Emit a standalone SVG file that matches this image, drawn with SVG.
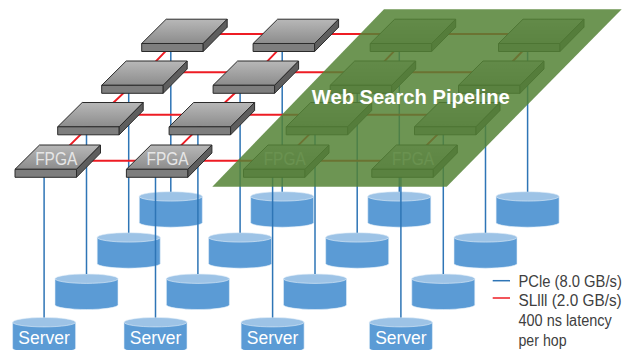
<svg xmlns="http://www.w3.org/2000/svg" xmlns:xlink="http://www.w3.org/1999/xlink" width="633" height="350" viewBox="0 0 633 350">
<style>
.ft{fill:url(#gTop);stroke:#2b2b2b;stroke-width:1;stroke-linejoin:round}
.ff{fill:#7e7e7e;stroke:#2b2b2b;stroke-width:1;stroke-linejoin:round}
.fs{fill:#5e5e5e;stroke:#2b2b2b;stroke-width:1;stroke-linejoin:round}
.cb{fill:#5b9bd5;stroke:#e3eef9;stroke-width:0.6}
.ct{fill:#9dc3e6;stroke:#e3eef9;stroke-width:0.6}
.pc{stroke:#2e75b6;stroke-width:1.5;fill:none}
.sl{stroke:#ee1c24;stroke-width:2;fill:none}
.lbl{font-family:"Liberation Sans",Arial,sans-serif;font-size:18px;text-anchor:middle}
.fl{fill:#e6e6e6}
.sv{fill:#ffffff}
.lg{font-family:"Liberation Sans",Arial,sans-serif;font-size:16px;fill:#404040}
.ttl{font-family:"Liberation Sans",Arial,sans-serif;font-size:21px;font-weight:bold;fill:#ffffff;text-anchor:middle}
</style>
<defs>
<linearGradient id="gTop" x1="0" y1="0" x2="0" y2="1">
<stop offset="0" stop-color="#b8b8b8"/>
<stop offset="1" stop-color="#8c8c8c"/>
</linearGradient>
<g id="box">
<path class="ft" d="M0,0 L24.5,-24.3 L85.5,-24.3 L61.5,0 Z"/>
<path class="ff" d="M0,0 H61.5 V8 H0 Z"/>
<path class="fs" d="M61.5,0 L85.5,-24.3 V-16.3 L61.5,8 Z"/>
</g>
<g id="cyl">
<path class="cb" d="M0,4.7 V30.8 A31.5,4.7 0 0 0 63,30.8 V4.7 Z"/>
<ellipse class="ct" cx="31.5" cy="4.7" rx="31.5" ry="4.7"/>
</g>
</defs>
<rect width="633" height="350" fill="#ffffff"/>

<!-- Servers -->
<g id="server-r0c0"><use xlink:href="#cyl" href="#cyl" x="139.3" y="191.7"/></g>
<g id="server-r0c1"><use xlink:href="#cyl" href="#cyl" x="250.7" y="191.7"/></g>
<g id="server-r0c2"><use xlink:href="#cyl" href="#cyl" x="367.8" y="191.7"/></g>
<g id="server-r0c3"><use xlink:href="#cyl" href="#cyl" x="496.1" y="191.7"/></g>
<g id="server-r1c0"><use xlink:href="#cyl" href="#cyl" x="97.2" y="232.7"/></g>
<g id="server-r1c1"><use xlink:href="#cyl" href="#cyl" x="208.6" y="232.7"/></g>
<g id="server-r1c2"><use xlink:href="#cyl" href="#cyl" x="325.7" y="232.7"/></g>
<g id="server-r1c3"><use xlink:href="#cyl" href="#cyl" x="454" y="232.7"/></g>
<g id="server-r2c0"><use xlink:href="#cyl" href="#cyl" x="55" y="274"/></g>
<g id="server-r2c1"><use xlink:href="#cyl" href="#cyl" x="166.4" y="274"/></g>
<g id="server-r2c2"><use xlink:href="#cyl" href="#cyl" x="283.5" y="274"/></g>
<g id="server-r2c3"><use xlink:href="#cyl" href="#cyl" x="411.8" y="274"/></g>
<g id="server-r3c0"><use xlink:href="#cyl" href="#cyl" x="12.6" y="317.5"/><text class="lbl sv" x="44.1" y="344.3" textLength="51.5" lengthAdjust="spacingAndGlyphs">Server</text></g>
<g id="server-r3c1"><use xlink:href="#cyl" href="#cyl" x="124" y="317.5"/><text class="lbl sv" x="155.5" y="344.3" textLength="51.5" lengthAdjust="spacingAndGlyphs">Server</text></g>
<g id="server-r3c2"><use xlink:href="#cyl" href="#cyl" x="241.1" y="317.5"/><text class="lbl sv" x="272.6" y="344.3" textLength="51.5" lengthAdjust="spacingAndGlyphs">Server</text></g>
<g id="server-r3c3"><use xlink:href="#cyl" href="#cyl" x="369.4" y="317.5"/><text class="lbl sv" x="400.9" y="344.3" textLength="51.5" lengthAdjust="spacingAndGlyphs">Server</text></g>

<!-- Connectors -->
<g id="connectors">
<g id="pcie">
<path class="pc" d="M170.8,37 V191.7 M282.2,37 V191.7 M399.3,37 V191.7 M527.6,37 V191.7"/>
<path class="pc" d="M128.7,79 V232.7 M240.1,79 V232.7 M357.2,79 V232.7 M485.5,79 V232.7"/>
<path class="pc" d="M86.5,120 V274 M197.9,120 V274 M315,120 V274 M443.3,120 V274"/>
<path class="pc" d="M44.1,163 V317.5 M155.5,163 V317.5 M272.6,163 V317.5 M400.9,163 V317.5"/>
</g>
<g id="sl3">
<path class="sl" d="M184.6,34 H541.4 M144.6,72.3 H501.4 M100.6,114.7 H457.4 M57.9,160.7 H414.7"/>
<path class="sl" d="M184.6,31.35 L144.6,73.15 L100.6,114.65 L57.9,157.15"/>
<path class="sl" d="M296,31.35 L256,73.15 L212,114.65 L169.3,157.15"/>
<path class="sl" d="M413.1,31.35 L373.1,73.15 L329.1,114.65 L286.4,157.15"/>
<path class="sl" d="M541.4,31.35 L501.4,73.15 L457.4,114.65 L414.7,157.15"/>
</g>
</g>

<!-- FPGAs -->
<g id="fpga-r0c0"><use xlink:href="#box" href="#box" x="141.7" y="43.5"/></g>
<g id="fpga-r0c1"><use xlink:href="#box" href="#box" x="253.1" y="43.5"/></g>
<g id="fpga-r0c2"><use xlink:href="#box" href="#box" x="370.2" y="43.5"/></g>
<g id="fpga-r0c3"><use xlink:href="#box" href="#box" x="498.5" y="43.5"/></g>
<g id="fpga-r1c0"><use xlink:href="#box" href="#box" x="101.7" y="85.3"/></g>
<g id="fpga-r1c1"><use xlink:href="#box" href="#box" x="213.1" y="85.3"/></g>
<g id="fpga-r1c2"><use xlink:href="#box" href="#box" x="330.2" y="85.3"/></g>
<g id="fpga-r1c3"><use xlink:href="#box" href="#box" x="458.5" y="85.3"/></g>
<g id="fpga-r2c0"><use xlink:href="#box" href="#box" x="57.7" y="126.8"/></g>
<g id="fpga-r2c1"><use xlink:href="#box" href="#box" x="169.1" y="126.8"/></g>
<g id="fpga-r2c2"><use xlink:href="#box" href="#box" x="286.2" y="126.8"/></g>
<g id="fpga-r2c3"><use xlink:href="#box" href="#box" x="414.5" y="126.8"/></g>
<g id="fpga-r3c0"><use xlink:href="#box" href="#box" x="15" y="169.3"/><text class="lbl fl" x="56.2" y="165" textLength="42" lengthAdjust="spacingAndGlyphs">FPGA</text></g>
<g id="fpga-r3c1"><use xlink:href="#box" href="#box" x="126.4" y="169.3"/><text class="lbl fl" x="167.6" y="165" textLength="42" lengthAdjust="spacingAndGlyphs">FPGA</text></g>
<g id="fpga-r3c2"><use xlink:href="#box" href="#box" x="243.5" y="169.3"/><text class="lbl fl" x="284.7" y="165" textLength="42" lengthAdjust="spacingAndGlyphs">FPGA</text></g>
<g id="fpga-r3c3"><use xlink:href="#box" href="#box" x="371.8" y="169.3"/><text class="lbl fl" x="413" y="165" textLength="42" lengthAdjust="spacingAndGlyphs">FPGA</text></g>

<!-- Web search pipeline plane -->
<g id="pipeline">
<polygon points="384,9.3 621.7,9.3 446.7,186.7 212.3,186.7" fill="#548235" fill-opacity="0.85"/>
<text class="ttl" x="410.8" y="104.3" textLength="198" lengthAdjust="spacingAndGlyphs">Web Search Pipeline</text>
</g>

<!-- Legend -->
<g id="legend">
<line x1="492.7" y1="280.7" x2="510" y2="280.7" stroke="#2e75b6" stroke-width="1.5"/>
<line x1="492.7" y1="298" x2="510" y2="298" stroke="#ee1c24" stroke-width="1.5"/>
<text class="lg" x="518.5" y="286.5" textLength="103.3" lengthAdjust="spacingAndGlyphs">PCle (8.0 GB/s)</text>
<text class="lg" x="518.5" y="306" textLength="103.2" lengthAdjust="spacingAndGlyphs">SLlll (2.0 GB/s)</text>
<text class="lg" x="518.5" y="326" textLength="93.2" lengthAdjust="spacingAndGlyphs">400 ns latency</text>
<text class="lg" x="518.5" y="346" textLength="48" lengthAdjust="spacingAndGlyphs">per hop</text>
</g>
</svg>
